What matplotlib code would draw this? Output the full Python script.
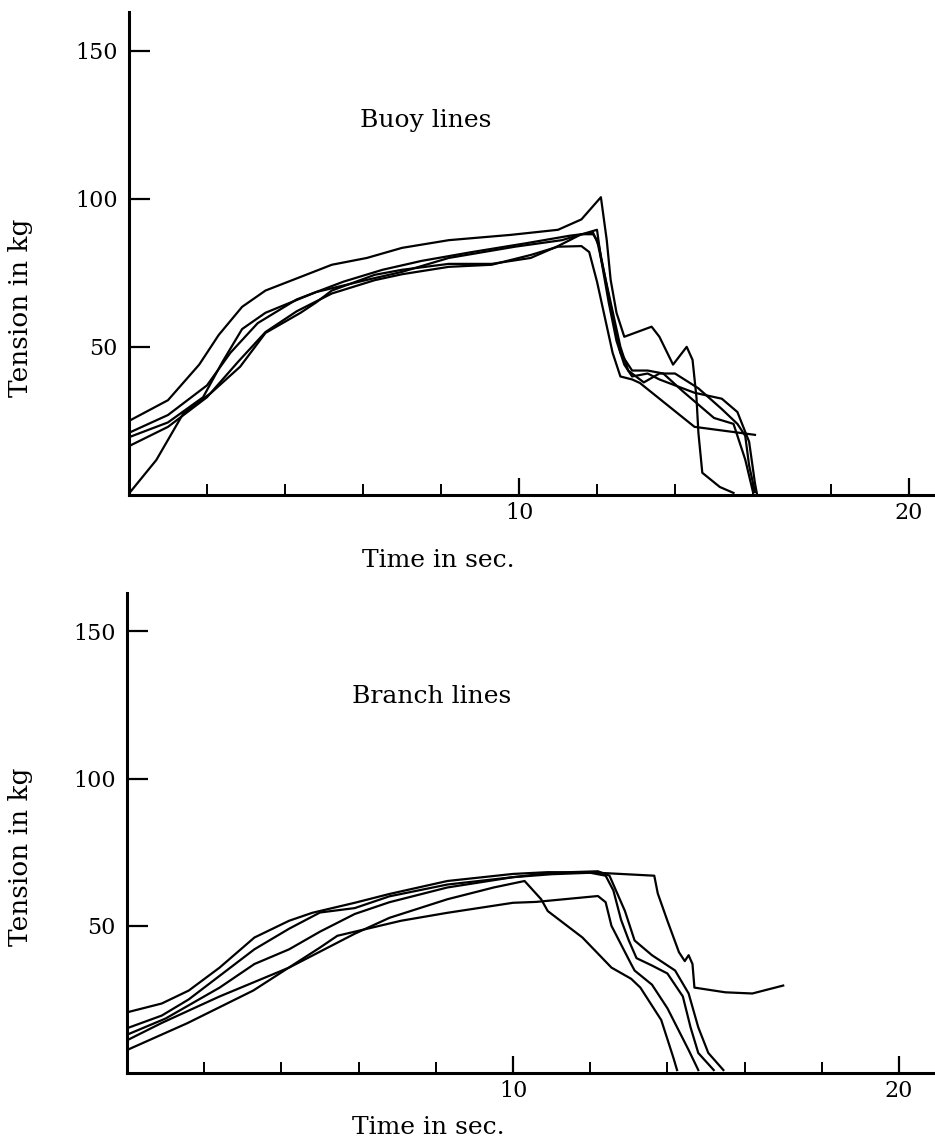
import matplotlib.pyplot as plt
from matplotlib.ticker import FixedLocator

plt.rcParams['font.family'] = 'DejaVu Serif'

# Buoy lines (time in sec, tension in kg)
buoy_t1 = [0, 1, 1.8, 2.3, 2.9, 3.5, 4.4, 5.2, 6.1, 7, 8.2, 9.8, 11, 11.6, 12.1,
           12.25, 12.35, 12.5, 12.7, 13.4, 13.6, 13.95, 14.3, 14.45, 14.55, 14.6,
           14.7, 15.15, 15.5]
buoy_v1 = [25, 32, 44, 54, 63.5, 69, 73.6, 77.7, 80, 83.4, 86, 87.8, 89.5, 93, 100.5,
           86, 72.6, 61.5, 53.4, 56.8, 53.4, 44, 50, 45.6, 33, 21,
           7.5, 2.7, 0.7]

buoy_t2 = [0, 1, 1.9, 2.4, 2.9, 3.5, 4.8, 6.1, 7, 8.2, 9.9, 11.1, 12.0, 12.1, 12.3,
           12.5, 12.7, 12.9, 13.3, 13.6, 14.5, 15.2, 15.6, 15.9, 16.05, 16.1]
buoy_v2 = [19.5, 24.5, 33, 45, 56, 61.5, 68.5, 72.6, 75.3, 80, 83.8, 86, 89.5, 80, 65,
           52, 44, 40, 41, 39, 34.5, 32.5, 28, 18, 4, 0.5]

buoy_t3 = [0, 1, 2.0, 2.8, 3.5, 4.3, 5.2, 6.3, 7, 8.2, 9.3, 10.3, 11.0, 11.6, 11.8,
           12.0, 12.2, 12.4, 12.6, 12.9, 13.1, 14.5, 16.05]
buoy_v3 = [16.5, 23, 33, 45, 55, 62, 68, 72.5, 74.5, 77, 77.7, 81, 83.8, 84, 82,
           72, 60, 48, 40, 39, 37.8, 23, 20.3]

buoy_t4 = [0, 0.7, 1.4, 2.1, 2.85, 3.5, 4.4, 4.8, 5.2, 6.3, 7, 8.2, 9.3, 10.3, 11.0,
           11.6, 11.9, 12.0, 12.2, 12.4, 12.6, 12.8, 13.2, 13.6, 14.0, 14.6, 15.2,
           15.6, 15.8, 15.9, 16.05]
buoy_v4 = [0.5, 11.8, 27.7, 34.4, 43.3, 54.7, 61.5, 65, 69, 74.3, 76, 78, 78, 80, 84,
           88, 88, 86, 74, 62, 50, 42, 38, 41, 41, 36, 29,
           24, 20, 10, 1]

buoy_t5 = [0, 1, 2.0, 2.6, 3.3, 4.3, 5.5, 6.5, 7.5, 8.8, 10.2, 11.3, 11.9, 12.05,
           12.2, 12.4, 12.6, 12.9, 13.3, 13.7, 14.2, 15.0, 15.5, 15.8, 16.0]
buoy_v5 = [21, 27, 37, 48, 58, 66, 72, 76, 79, 82, 85, 87.5, 88.5, 84,
           74, 60, 48, 42, 42, 41, 35, 26, 24, 12, 1]

# Branch lines
branch_t1 = [0, 0.9, 1.6, 2.4, 3.3, 4.2, 4.8, 5.9, 6.8, 8.3, 10.0, 10.9, 12.2, 13.66,
             13.75, 14.0, 14.3, 14.45, 14.55, 14.65, 14.7, 15.5, 16.2, 17.0]
branch_v1 = [20.6, 23.6, 28, 35.8, 46, 51.7, 54.4, 57.8, 60.8, 65.2, 67.6, 68.2, 68, 67,
             61, 51.7, 41, 38, 40, 37, 29, 27.4, 27, 29.7]

branch_t2 = [0, 0.9, 1.6, 2.4, 3.3, 4.2, 5.0, 5.9, 6.8, 8.3, 10, 11, 12.2, 12.5, 12.9,
             13.15, 13.6, 14.2, 14.55, 14.8, 15.06, 15.45]
branch_v2 = [15.2, 19.5, 25, 33, 42, 49, 54.5, 56, 60, 64, 66.5, 68, 68.5, 67, 55,
             45, 40, 34.8, 27, 15.5, 6.8, 1]

branch_t3 = [0, 0.9, 2.4, 4.2, 5.9, 6.8, 8.3, 9.5, 10.3, 10.73, 10.9, 11.8, 12.55,
             13.06, 13.3, 13.84, 14.15, 14.25]
branch_v3 = [11.1, 17, 26, 35.8, 47.3, 52.7, 59, 63, 65.2, 59, 55, 46, 35.8,
             32, 29, 18, 5.4, 1]

branch_t4 = [0, 1.56, 3.27, 5.0, 5.45, 7.1, 8.3, 10.0, 10.6, 12.2, 12.4, 12.55, 13.06,
             13.15, 13.6, 14.0, 14.55, 14.8]
branch_v4 = [7.8, 16.9, 28, 42.6, 46.6, 51.7, 54.4, 57.8, 58.1, 60.1, 58, 50, 37,
             34.8, 30, 22, 7.8, 1]

branch_t5 = [0, 1, 2.4, 3.3, 4.2, 5.0, 5.9, 6.8, 8.3, 10, 11, 12.0, 12.4, 12.6, 12.8,
             13.0, 13.2, 13.6, 14.0, 14.4, 14.6, 14.8, 15.2]
branch_v5 = [13, 18.5, 29, 37, 42, 48, 54, 58, 63, 66.5, 67.5, 68, 67, 62, 52,
             45, 39, 36.5, 33.8, 26, 15.5, 6.8, 1]

buoy = [(buoy_t1, buoy_v1), (buoy_t2, buoy_v2), (buoy_t3, buoy_v3),
        (buoy_t4, buoy_v4), (buoy_t5, buoy_v5)]
branch = [(branch_t1, branch_v1), (branch_t2, branch_v2), (branch_t3, branch_v3),
          (branch_t4, branch_v4), (branch_t5, branch_v5)]

y_ticks = [50, 100, 150]
x_major = [10, 20]
x_minor = [2, 4, 6, 8, 12, 14, 16, 18]

W, H = 935, 1144
fig = plt.figure(figsize=(W / 100, H / 100), dpi=100)


def setup_axes(rect, xmax, title, title_pos):
    ax = fig.add_axes(rect)
    ax.set_xlim(0, xmax)
    ax.set_ylim(0, 163)
    for side in ['top', 'right']:
        ax.spines[side].set_visible(False)
    for side in ['left', 'bottom']:
        ax.spines[side].set_linewidth(2.2)
    ax.yaxis.set_major_locator(FixedLocator(y_ticks))
    ax.xaxis.set_major_locator(FixedLocator(x_major))
    ax.xaxis.set_minor_locator(FixedLocator(x_minor))
    ax.tick_params(axis='y', direction='in', length=15, width=1.6, pad=8,
                   labelsize=16)
    ax.tick_params(axis='x', which='major', direction='in', length=12, width=1.6,
                   pad=5, labelsize=16)
    ax.tick_params(axis='x', which='minor', direction='in', length=8, width=1.4)
    ax.text(title_pos[0], title_pos[1], title, ha='center', va='center',
            fontsize=18)
    return ax


ax1 = setup_axes([129 / W, 1 - 495 / H, (W - 129) / W, (495 - 12) / H],
                 (W - 129) / 39.0, 'Buoy lines', (7.6, 126.5))
for t, v in buoy:
    ax1.plot(t, v, color='black', linewidth=1.6, solid_joinstyle='round')

ax2 = setup_axes([127 / W, 1 - 1073 / H, (W - 127) / W, (1073 - 593) / H],
                 (W - 127) / 38.6, 'Branch lines', (7.9, 128))
for t, v in branch:
    ax2.plot(t, v, color='black', linewidth=1.6, solid_joinstyle='round')

fig.text(21 / W, 1 - 308 / H, 'Tension in kg', rotation=90, ha='center',
         va='center', fontsize=19)
fig.text(21 / W, 1 - 857 / H, 'Tension in kg', rotation=90, ha='center',
         va='center', fontsize=19)
fig.text(438 / W, 1 - 560 / H, 'Time in sec.', ha='center', va='center', fontsize=18)
fig.text(428 / W, 1 - 1127 / H, 'Time in sec.', ha='center', va='center', fontsize=18)

fig.savefig('out.png', dpi=100)
